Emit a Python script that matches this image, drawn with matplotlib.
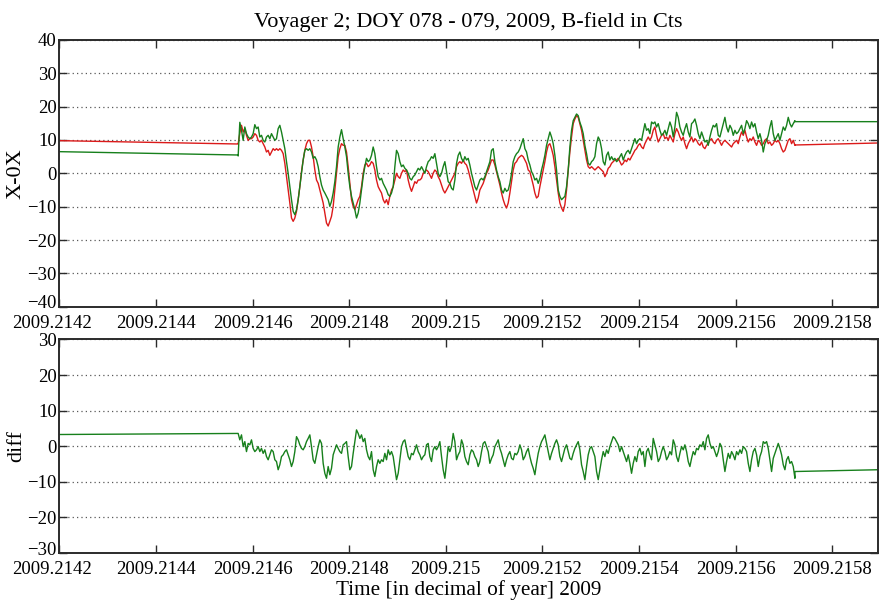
import numpy as np
import matplotlib

matplotlib.use("Agg")
import matplotlib.pyplot as plt
import matplotlib.transforms as mtransforms

plt.rcParams["font.family"] = ["Liberation Serif", "DejaVu Serif"]

# time axis in decimal year
x_lim = (2009.2142, 2009.215895)
x_ticks = [2009.2142, 2009.2144, 2009.2146, 2009.2148, 2009.2150,
           2009.2152, 2009.2154, 2009.2156, 2009.2158]
x_tick_labels = ["2009.2142", "2009.2144", "2009.2146", "2009.2148",
                 "2009.215", "2009.2152", "2009.2154", "2009.2156",
                 "2009.2158"]

# interval with continuous samples
t_first = 2009.214570
t_last = 2009.215723

# gaps bridged by straight lines (before / after the sampled interval)
t_before = [2009.2142, 2009.214570]
t_after = [2009.215723, 2009.215895]
red_before = [9.8, 8.8]
green_before = [6.5, 5.5]
diff_before = [3.3, 3.6]
red_after = [8.5, 9.1]
green_after = [15.5, 15.5]
diff_after = [-7.1, -6.6]

red = [
    8.9, 12.0, 14.4, 12.4, 13.4, 11.4, 9.9, 10.4, 10.4, 10.9,
    11.9, 11.4, 9.9, 9.4, 9.9, 8.9, 7.9, 6.4, 6.9, 5.4,
    6.4, 7.4, 6.9, 7.4, 6.9, 7.4, 6.9, 5.9, 3.0, -1.0,
    -5.0, -8.9, -13.4, -14.4, -13.4, -11.4, -7.9, -4.0, 0.5, 4.0,
    6.9, 8.9, 9.9, 9.9, 7.9, 5.0, 1.0, -2.0, -3.0, -5.0,
    -6.9, -8.9, -11.9, -14.9, -15.8, -14.4, -12.9, -9.9, -5.0, 0.0,
    5.0, 7.4, 8.9, 8.4, 8.4, 6.4, 2.0, -3.0, -7.9, -9.9,
    -10.9, -9.4, -7.9, -6.9, -4.0, 0.0, 2.5, 3.0, 2.0, 2.5,
    3.5, 3.0, 1.0, -2.0, -4.0, -5.0, -5.9, -7.9, -8.9, -7.9,
    -9.4, -6.9, -5.0, -4.0, -2.0, 0.0, -1.0, -1.5, 0.0, 1.0,
    0.5, 1.0, -2.0, -4.0, -5.4, -4.0, -2.5, -3.0, -2.0,
    -2.0, -1.5, 0.0, 0.5, 1.0, 0.5, -0.5, -1.5, 0.0, 1.0,
    0.5, -1.0, -2.0, -3.5, -5.0, -5.9, -5.0, -4.0, -3.0, -2.0,
    -1.0, 0.0, 2.0, 3.0, 3.5, 3.0, 4.0, 3.0, 2.5, 1.0,
    -1.0, -3.0, -5.0, -6.9, -8.9, -7.4, -5.0, -4.0, -3.0, -1.5,
    0.0, 1.0, 2.5, 4.0, 4.0, 2.5, 0.5, -1.5, -3.5, -5.9,
    -7.9, -9.4, -10.4, -8.9, -5.9, -2.5, 1.0, 3.0, 3.5, 4.5,
    5.0, 5.4, 5.0, 4.0, 3.0, 1.0, 0.5, -1.5, -3.5, -5.9,
    -7.4, -6.9, -4.0, -1.5, 1.0, 3.5, 6.4, 8.4, 8.9, 7.4,
    5.4, 2.0, -2.0, -5.9, -8.9, -10.4, -11.4, -9.4, -5.0, 1.0,
    6.4, 10.9, 14.9, 16.3, 17.3, 16.8, 14.9, 12.9, 9.9, 6.9,
    4.0, 2.0, 1.5, 2.0, 1.5, 1.0, 1.5, 2.0, 1.5, 1.0,
    0.5, -1.0, 0.0, 1.5, 2.0, 3.0, 3.5, 4.0, 4.0, 4.5,
    3.5, 2.5, 3.0, 4.0, 3.5, 4.5, 4.0, 5.0, 5.9, 6.9,
    7.4, 8.4, 8.9, 7.9, 7.4, 8.9, 9.9, 10.9, 9.9, 10.9,
    12.9, 13.9, 11.4, 9.4, 10.4, 11.4, 11.9, 10.4, 10.9, 9.9,
    11.4, 10.4, 9.4, 11.9, 13.4, 12.4, 10.9, 9.9, 10.9, 8.9,
    7.4, 8.9, 9.9, 10.9, 9.4, 10.4, 9.9, 8.9, 8.4, 9.4,
    7.9, 7.4, 8.4, 8.9, 9.9, 10.4, 9.4, 8.9, 9.9, 10.4,
    9.4, 8.4, 9.4, 9.9, 9.4, 8.9, 8.4, 7.9, 8.9, 9.4,
    9.9, 8.9, 10.9, 12.4, 11.4, 12.9, 10.9, 9.4, 10.4, 9.9,
    10.9, 9.4, 8.4, 9.9, 9.4, 8.4, 8.9, 9.9, 10.4, 8.9,
    9.4, 8.4, 8.9, 9.9, 9.4, 9.9, 8.9, 7.4, 6.4, 6.9,
    8.4, 9.9, 10.4, 8.9, 9.9, 8.4,
]

green = [
    5.2, 15.3, 12.9, 9.9, 13.9, 11.9, 10.9, 10.4, 10.9, 11.9,
    14.6, 13.4, 13.9, 10.9, 11.4, 9.9, 9.4, 10.9, 11.4, 10.4,
    11.9, 10.9, 9.9, 10.4, 13.4, 14.4, 12.4, 9.9, 7.4, 3.5,
    0.0, -4.0, -7.9, -11.4, -12.4, -10.9, -7.9, -4.0, 0.0, 4.0,
    6.9, 7.4, 6.9, 7.4, 6.4, 4.5, 5.0, 4.0, 2.0, -1.0,
    -3.5, -5.0, -5.9, -6.9, -7.9, -9.9, -8.4, -5.9, -2.5, 2.0,
    7.9, 10.9, 13.1, 10.4, 7.9, 5.0, 0.0, -4.0, -6.9, -8.9,
    -10.9, -13.4, -11.9, -8.9, -5.0, -1.0, 2.0, 4.5, 3.5, 4.0,
    5.4, 7.9, 5.9, 2.0, -1.0, -2.0, -1.5, -3.0, -4.0, -5.0,
    -6.4, -6.9, -5.9, -4.0, 2.0, 6.9, 5.9, 3.5, 2.0, 2.5,
    1.5, 1.0, 0.0, -1.5, -2.0, -1.0, -0.5, 0.5, 1.5,
    1.0, 2.0, 1.0, 0.0, 2.0, 3.5, 4.0, 5.0, 4.5, 5.9,
    3.0, 0.0, -1.0, 0.0, 2.0, 3.5, 0.5, -2.5, -3.0, -4.5,
    -5.0, -2.0, 3.0, 5.4, 6.4, 4.5, 3.5, 5.0, 4.0, 4.5,
    2.5, 0.0, -2.0, -4.0, -5.0, -3.5, -2.0, -1.5, -2.0, -1.0,
    0.5, 2.0, 3.5, 6.9, 7.4, 3.5, 1.0, -1.0, -2.5, -5.0,
    -5.9, -4.5, -5.4, -5.0, -3.0, 0.0, 3.5, 5.0, 5.9, 6.4,
    7.4, 8.9, 10.4, 7.4, 6.4, 4.0, 2.5, 0.5, -0.5, -2.0,
    -1.5, -3.0, -1.5, 1.0, 3.0, 5.4, 8.4, 10.4, 12.4, 10.9,
    8.9, 5.4, 1.0, -5.0, -6.9, -7.9, -7.4, -6.9, -4.0, 1.0,
    7.9, 12.9, 15.8, 16.8, 17.8, 17.3, 15.3, 13.9, 11.9, 8.4,
    5.9, 3.0, 2.5, 3.5, 4.0, 5.0, 8.9, 10.9, 9.9, 7.4,
    3.5, 2.5, 5.4, 6.4, 4.0, 5.0, 4.0, 4.5, 3.5, 4.0,
    5.0, 5.9, 4.0, 5.4, 6.4, 6.9, 5.9, 7.4, 8.9, 10.4,
    8.9, 9.9, 10.4, 9.9, 12.4, 14.9, 12.9, 13.4, 11.9, 15.4,
    14.9, 15.4, 13.9, 14.9, 12.9, 11.4, 11.9, 12.9, 11.4, 13.4,
    15.4, 13.9, 10.9, 13.9, 18.3, 16.8, 13.9, 12.4, 11.4, 13.4,
    14.9, 12.4, 10.9, 14.9, 15.4, 16.3, 14.4, 11.9, 10.4, 12.4,
    10.9, 9.4, 9.9, 8.4, 10.9, 12.9, 14.4, 13.9, 14.9, 11.4,
    10.9, 12.9, 14.9, 16.8, 13.9, 12.4, 14.4, 13.4, 11.4, 12.9,
    11.9, 12.4, 13.4, 14.4, 11.9, 13.4, 15.8, 14.9, 13.4, 15.4,
    13.9, 14.9, 12.4, 10.4, 11.9, 9.9, 6.4, 8.9, 9.9, 11.4,
    13.9, 15.8, 11.9, 9.9, 10.9, 11.9, 9.9, 11.9, 13.9, 12.9,
    14.4, 16.8, 14.9, 13.9, 14.9, 15.8,
]

diff = [
    3.6, 1.8, 3.2, -0.1, 1.3, -1.5, 0.8, 0.4, 1.8, -0.6,
    -1.5, -1.0, -0.1, -1.5, -0.6, -2.0, -1.0, -2.9, -3.8, -2.4,
    -1.0, -1.5, -3.8, -4.3, -6.6, -5.2, -2.9, -2.4, -1.5, -1.0,
    -2.4, -3.8, -5.7, -4.3, -1.5, 2.7, 1.8, 0.4, -0.6, -1.0,
    -0.1, 1.3, 2.2, 3.2, -0.1, -3.8, -4.8, -2.4, -0.1, 1.8,
    0.8, -4.8, -7.6, -9.0, -5.7, -8.0, -6.2, -2.4, -1.0, 0.4,
    -0.6, -1.5, -2.0, 0.4, 0.8, 1.3, -2.9, -6.6, -5.7, -2.0,
    1.3, 4.6, 3.6, 2.2, 3.2, 1.3, 2.2, -1.0, -2.9, -3.8,
    -1.5, -6.6, -8.5, -5.7, -3.8, -4.8, -3.8, -4.3, -2.0, -3.8,
    -1.0, -2.4, -1.5, -2.9, -6.2, -9.4, -7.6, -3.8, -0.1, 1.3,
    1.8, -0.6, -2.9, -3.8, -2.0, -2.4, -1.0, 0.4, -1.5, -2.4,
    -3.8, -2.9, -2.4, 0.4, 0.8, -2.9, -4.3, -1.0, -0.1, -1.0,
    -0.1, 1.3, -2.9, -6.6, -9.0, -4.8, -0.1,
    -1.5, -0.1, 3.6, 1.3, -3.8, -2.4, -1.5, 1.8, 0.4, -2.9,
    -4.3, -5.2, -2.4, -1.0, -1.5, -2.9, -3.8, -5.7, -4.3, -1.5,
    0.8, 1.3, -0.1, -1.5, -4.8, -3.4, -2.4, -0.1, 0.8, 1.8,
    -0.6, -2.0, -3.8, -5.7, -3.8, -2.4, -1.5, -3.4, -3.8, -2.0,
    -2.4, -1.5, 0.4, -1.0, -3.8, -2.9, -1.5, -0.6, -2.9, -4.8,
    -6.2, -8.0, -4.8, -2.0, -0.1, 1.3, 2.2, 3.2, 0.8, -1.5,
    -3.8, -2.0, -0.6, 0.8, 1.8, 0.4, -2.9, -4.3, -2.4, -0.6,
    0.4, -1.5, -3.4, -3.8, -2.0, -0.6, 0.4, 1.3, -1.0, -5.2,
    -7.1, -9.4, -5.7, -2.4, -0.6, -0.1, -1.5, -2.9, -7.1, -9.4,
    -6.6, -3.8, -1.5, -2.9, -1.0, -2.0, -0.1, 1.3, 2.7, 2.2,
    1.3, 0.4, -1.5, -0.1, -1.5, -2.9, -4.3, -2.4, -4.8, -7.6,
    -4.8, -2.9, -4.3, -1.5, -0.6, -2.4, -1.5, -5.7, -1.5, -0.6,
    -2.4, -3.8, 2.2, 0.4, -1.5, -4.3,
    -3.4, -1.5, -0.1, -1.5, -3.8, -2.9, -1.5, -2.4, 1.8, 0.4,
    -2.9, -4.3, -2.0, -0.1, -1.0, 0.4, -1.5, -4.3, -5.7, -3.4,
    -1.5, -2.4, -0.6, -1.0, 0.4, -0.1, 1.3, -1.0, 2.2, 3.2,
    0.8, -0.6, -0.1, -1.5, -2.9, -1.5, 0.8, -0.1, -3.8, -7.1,
    -4.3, -2.0, -3.4, -1.5, -2.4, -3.8, -1.5, -2.4, -1.0, -2.0,
    -0.1, -0.6, -1.5, -4.8, -7.1, -3.8, -1.5, -0.6, -2.4, -5.7,
    -2.9, -1.5, 1.3, 0.8, 1.3, -0.6, -3.8, -7.1, -3.4, -2.0,
    -0.6, 0.8, -0.6, -2.4, -5.2, -6.6, -3.8, -2.9, -4.8, -4.3,
    -5.7, -9.0,
]

RED = "#dc1a1a"
GREEN = "#17801c"
FRAME = "#2b2b2b"
FS = 13.5


def series(before, values, after):
    t = np.concatenate([t_before, np.linspace(t_first, t_last, len(values)), t_after])
    y = np.concatenate([before, values, after])
    return t, y


def style_axes(ax, ylim, ylabel):
    ax.set_xlim(*x_lim)
    ax.set_ylim(*ylim)
    ax.set_xticks(x_ticks)
    ax.set_xticklabels(x_tick_labels)
    ax.set_yticks(np.arange(ylim[0], ylim[1] + 1, 10))
    ax.yaxis.grid(True, color="0.35", linestyle=(0, (1, 2.5)), linewidth=0.9)
    ax.tick_params(axis="both", which="both", direction="in", length=6,
                   width=1.0, color=FRAME, top=True, right=True,
                   labelsize=FS, pad=6)
    ax.tick_params(axis="y", pad=2)
    for sp in ax.spines.values():
        sp.set_color(FRAME)
        sp.set_linewidth(1.4)
    ax.set_ylabel(ylabel, fontsize=16, labelpad=1)
    # nudge the corner labels apart, as the plotting program does
    fig.canvas.draw()
    xl = ax.get_xticklabels()[0]
    xl.set_transform(xl.get_transform() + mtransforms.ScaledTranslation(
        -7 / 100, 0, fig.dpi_scale_trans))
    yl = ax.get_yticklabels()[0]
    yl.set_transform(yl.get_transform() + mtransforms.ScaledTranslation(
        0, 5 / 100, fig.dpi_scale_trans))


fig = plt.figure(figsize=(8.8, 6.03), dpi=100)
ax1 = fig.add_axes([0.0676, 0.4914, 0.9301, 0.4423])
ax2 = fig.add_axes([0.0676, 0.0829, 0.9301, 0.3541])

# top panel: both components
t, y = series(red_before, red, red_after)
ax1.plot(t, y, color=RED, linewidth=1.0)
t, y = series(green_before, green, green_after)
ax1.plot(t, y, color=GREEN, linewidth=1.0)
style_axes(ax1, (-40, 40), "X-0X")
ax1.set_title("Voyager 2; DOY 078 - 079, 2009, B-field in Cts",
              fontsize=16, pad=9)

# bottom panel: difference of the components
t, y = series(diff_before, diff, diff_after)
ax2.plot(t, y, color=GREEN, linewidth=1.0)
style_axes(ax2, (-30, 30), "diff")
ax2.set_xlabel("Time [in decimal of year] 2009", fontsize=15.3, labelpad=1)

fig.savefig("out.png", dpi=100)
